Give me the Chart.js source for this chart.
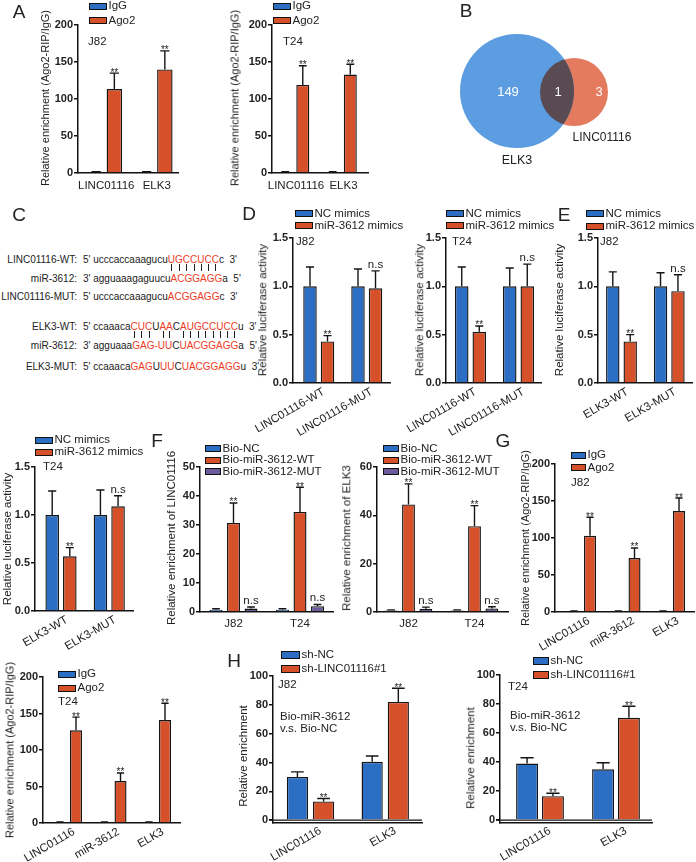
<!DOCTYPE html>
<html><head><meta charset="utf-8">
<script src="https://cdn.jsdelivr.net/npm/chart.js@4.4.1/dist/chart.umd.min.js"></script>
<style>
html,body{margin:0;padding:0;background:#fff;}
#fig{position:relative;width:696px;height:862px;overflow:hidden;font-family:"Liberation Sans",Arial,sans-serif;color:#222;}
.t{position:absolute;line-height:1;white-space:nowrap;}
canvas{position:absolute;}
.lb{position:absolute;border:1.2px solid #111;box-sizing:border-box;}
.r{color:#ee3b24;}
.p{position:relative;}
.p::after{content:"";position:absolute;left:50%;top:10px;height:7px;border-left:1px solid #222;}
</style></head><body><div id="fig"></div>
<script>
// ---------------- DATA ----------------
const catsA = ['LINC01116', 'ELK3'];
const a1IgG = [1.2, 1.0], a1IgGErr = [1.8, 1.6];
const a1Ago2 = [113.5, 140], a1Ago2Err = [135, 165], a1Sig = ['**', '**'];
const a2IgG = [1.2, 1.2], a2IgGErr = [1.8, 1.8];
const a2Ago2 = [119, 133], a2Ago2Err = [145, 147], a2Sig = ['**', '**'];

const vennNames = ['ELK3', 'LINC01116'];
const vennCounts = [149, 1, 3]; // ELK3 only, both, LINC01116 only

const catsD = ['LINC01116-WT', 'LINC01116-MUT'];
const d1NC = [1.0, 1.0], d1NCErr = [1.2, 1.18];
const d1Mir = [0.43, 0.98], d1MirErr = [0.49, 1.16], d1Sig = ['**', 'n.s'];
const d2NC = [1.0, 1.0], d2NCErr = [1.2, 1.19];
const d2Mir = [0.53, 1.0], d2MirErr = [0.59, 1.23], d2Sig = ['**', 'n.s'];

const catsE = ['ELK3-WT', 'ELK3-MUT'];
const e1NC = [1.0, 1.0], e1NCErr = [1.15, 1.14];
const e1Mir = [0.43, 0.95], e1MirErr = [0.5, 1.12], e1Sig = ['**', 'n.s'];
const e2NC = [1.0, 1.0], e2NCErr = [1.25, 1.26];
const e2Mir = [0.57, 1.09], e2MirErr = [0.66, 1.2], e2Sig = ['**', 'n.s'];

const catsF = ['J82', 'T24'];
const f1NC = [0.8, 0.8], f1NCErr = [1.1, 1.1];
const f1WT = [30.7, 34.5], f1WTErr = [37.6, 43], f1WTSig = ['**', '**'];
const f1MUT = [1.2, 2.0], f1MUTErr = [1.7, 2.6], f1MUTSig = ['n.s', 'n.s'];
const f2NC = [0.6, 0.6], f2NCErr = [0.9, 0.9];
const f2WT = [44.5, 35.5], f2WTErr = [53, 44], f2WTSig = ['**', '**'];
const f2MUT = [1.3, 1.5], f2MUTErr = [2.0, 2.2], f2MUTSig = ['n.s', 'n.s'];

const catsG = ['LINC01116', 'miR-3612', 'ELK3'];
const g1IgG = [1, 1, 1], g1IgGErr = [1.5, 1.5, 1.5];
const g1Ago2 = [103, 73, 136.5], g1Ago2Err = [128, 86.5, 154], g1Sig = ['**', '**', '**'];
const g2IgG = [1, 1, 1], g2IgGErr = [1.5, 1.5, 1.5];
const g2Ago2 = [127, 57.5, 141], g2Ago2Err = [145, 68.5, 164], g2Sig = ['**', '**', '**'];

const catsH = ['LINC01116', 'ELK3'];
const h1NC = [30, 40.5], h1NCErr = [33.5, 44.5];
const h1Sh = [13, 82], h1ShErr = [15, 91.5], h1Sig = ['**', '**'];
const h2NC = [39, 35], h2NCErr = [43, 39.5];
const h2Sh = [16.5, 70.5], h2ShErr = [18.5, 78.5], h2Sig = ['**', '**'];

const ticks200 = [0, 50, 100, 150, 200];
const ticks15 = [0, 0.5, 1.0, 1.5];
const ticks50 = [0, 10, 20, 30, 40, 50];
const ticks60 = [0, 20, 40, 60];
const ticks100 = [0, 20, 40, 60, 80, 100];

// ---------------- STYLE ----------------
const BLUE = '#2c6ec4', ORANGE = '#d6502a', PURPLE = '#6b5a9c';
const FONT = '"Liberation Sans", Arial, sans-serif';
Chart.defaults.font.family = FONT;
Chart.defaults.color = '#222';
const fig = document.getElementById('fig');

function T(x, cy, s, fs, align, extra) {
  const d = document.createElement('div');
  d.className = 't';
  d.style.fontSize = fs + 'px';
  d.innerHTML = s;
  if (align === 'rot') {
    d.style.left = x + 'px'; d.style.top = cy + 'px';
    d.style.transform = 'translate(-50%,-50%) rotate(-90deg)';
  } else {
    d.style.left = x + 'px'; d.style.top = (cy - fs * 0.5) + 'px';
    if (align === 'c') d.style.transform = 'translateX(-50%)';
    if (align === 'r') d.style.transform = 'translateX(-100%)';
  }
  if (extra) Object.assign(d.style, extra);
  fig.appendChild(d);
  return d;
}
function legend(x, ys, items, bw, bh, fs) {
  items.forEach((it, i) => {
    const b = document.createElement('div');
    b.className = 'lb';
    b.style.left = x + 'px'; b.style.top = (ys[i] - bh / 2) + 'px';
    b.style.width = bw + 'px'; b.style.height = bh + 'px';
    b.style.background = it.color;
    fig.appendChild(b);
    T(x + bw + 1.5, ys[i], it.label, fs, 'l');
  });
}

const errPlugin = {
  id: 'errBars',
  afterDatasetsDraw(chart) {
    const ctx = chart.ctx, ys = chart.scales.y;
    chart.data.datasets.forEach((ds, di) => {
      const meta = chart.getDatasetMeta(di);
      meta.data.forEach((el, i) => {
        const top = el.y;
        let ey = top;
        if (ds.err && ds.err[i] != null) {
          ey = ys.getPixelForValue(ds.err[i]);
          const hw = el.width * 0.3;
          ctx.save();
          ctx.strokeStyle = '#151515'; ctx.lineWidth = 1.4;
          ctx.beginPath();
          ctx.moveTo(el.x, top); ctx.lineTo(el.x, ey);
          ctx.moveTo(el.x - hw, ey); ctx.lineTo(el.x + hw, ey);
          ctx.stroke(); ctx.restore();
        }
        const sg = ds.sig ? ds.sig[i] : '';
        if (sg) {
          ctx.save(); ctx.fillStyle = '#222'; ctx.textAlign = 'center'; ctx.textBaseline = 'alphabetic';
          if (sg === '**') { ctx.font = '10px ' + FONT; ctx.fillText(sg, el.x, ey + 2.5); }
          else { ctx.font = '11.5px ' + FONT; ctx.fillText(sg, el.x, ey - 3); }
          ctx.restore();
        }
      });
    });
  }
};
const zeroPlugin = {
  id: 'zeroLine',
  afterDatasetsDraw(chart, args, opts) {
    if (!opts || !opts.on) return;
    const ctx = chart.ctx, a = chart.chartArea, y0 = chart.scales.y.getPixelForValue(0);
    ctx.save(); ctx.strokeStyle = '#111'; ctx.lineWidth = 1.3;
    ctx.beginPath(); ctx.moveTo(a.left - 4, y0); ctx.lineTo(a.right, y0); ctx.stroke(); ctx.restore();
  }
};

function barChart(s) {
  const yW = 80, padT = 12, padR = 16;
  const cv = document.createElement('canvas');
  const W = Math.round(s.R - s.L + yW + padR), H = Math.round(s.B - s.T + padT + s.xH);
  cv.width = W; cv.height = H;
  cv.style.width = W + 'px'; cv.style.height = H + 'px';
  cv.style.left = (s.L - yW) + 'px'; cv.style.top = (s.T - padT) + 'px';
  fig.appendChild(cv);
  const xmin = (s.L - s.x0) / s.w, xmax = (s.R - s.x0) / s.w;
  new Chart(cv, {
    type: 'bar',
    data: {
      datasets: s.series.map(se => ({
        label: se.label,
        data: s.cats.map((c, i) => ({ x: i, y: se.data[i] })),
        err: se.err, sig: se.sig,
        backgroundColor: se.color, borderColor: '#151515', borderWidth: 1.4,
        categoryPercentage: s.cp, barPercentage: s.bp
      }))
    },
    options: {
      responsive: false, animation: false, devicePixelRatio: 1, events: [],
      layout: { padding: { top: padT, right: padR, left: 0, bottom: 0 }, autoPadding: false },
      plugins: { legend: { display: false }, tooltip: { enabled: false }, zeroLine: { on: !!s.zeroLine } },
      scales: {
        x: {
          type: 'linear', min: xmin, max: xmax, offset: false,
          grid: { display: false, drawTicks: false },
          border: { display: true, color: '#111', width: 1.5 },
          afterBuildTicks: sc => { sc.ticks = s.cats.map((c, i) => ({ value: i })); },
          afterFit: sc => { sc.height = s.xH; },
          ticks: { autoSkip: false, minRotation: s.rot, maxRotation: s.rot, padding: s.xPad, labelOffset: s.lo || 0, color: '#222',
            font: { size: 11.5 }, callback: v => (s.cats[v] !== undefined ? s.cats[v] : '') }
        },
        y: {
          type: 'linear', min: s.ymin, max: s.ymax,
          grid: { display: true, drawOnChartArea: false, drawTicks: true, tickLength: 4, color: '#111', lineWidth: 1.5 },
          border: { display: true, color: '#111', width: 1.5 },
          afterBuildTicks: sc => { sc.ticks = s.yticks.map(v => ({ value: v })); },
          afterFit: sc => { sc.width = yW; },
          ticks: { padding: 1, color: '#222', font: { size: 11, weight: 'bold' },
            callback: v => (s.fmt ? s.fmt(v) : String(v)) }
        }
      }
    },
    plugins: [errPlugin, zeroPlugin]
  });
}
const f1 = v => v.toFixed(1);

// ---------- Panel A ----------
const serA1 = [{ label: 'IgG', color: BLUE, data: a1IgG, err: a1IgGErr }, { label: 'Ago2', color: ORANGE, data: a1Ago2, err: a1Ago2Err, sig: a1Sig }];
const serA2 = [{ label: 'IgG', color: BLUE, data: a2IgG, err: a2IgGErr }, { label: 'Ago2', color: ORANGE, data: a2Ago2, err: a2Ago2Err, sig: a2Sig }];
barChart({ L: 78, R: 178, T: 25, B: 173, ymin: 0, ymax: 200, yticks: ticks200, cats: catsA, x0: 105.25, w: 50.5, cp: 0.72, bp: 0.85, rot: 0, xH: 30, xPad: 6, lo: 1, series: serA1 });
barChart({ L: 272, R: 368, T: 25, B: 173, ymin: 0, ymax: 200, yticks: ticks200, cats: catsA, x0: 294, w: 47.5, cp: 0.74, bp: 0.74, rot: 0, xH: 30, xPad: 6, lo: 2, series: serA2 });
legend(89, [6, 20.5], serA1, 18, 7, 11.5);
legend(273, [6, 20.5], serA2, 18, 7, 11.5);
T(88, 42, 'J82', 11.5, 'l'); T(283, 42, 'T24', 11.5, 'l');
T(45, 98, 'Relative enrichment (Ago2-RIP/IgG)', 11, 'rot');
T(235, 98, 'Relative enrichment (Ago2-RIP/IgG)', 11, 'rot');

// ---------- Panel B (Venn) ----------
(function () {
  const cv = document.createElement('canvas');
  cv.width = 236; cv.height = 190; cv.style.width = '236px'; cv.style.height = '190px';
  cv.style.left = '460px'; cv.style.top = '0px';
  fig.appendChild(cv);
  const vennPlugin = {
    id: 'venn',
    afterDatasetsDraw(chart) {
      const a = chart.getDatasetMeta(0).data[0], b = chart.getDatasetMeta(1).data[0];
      const ra = a.options.radius, rb = b.options.radius;
      const ctx = chart.ctx;
      ctx.save();
      ctx.beginPath(); ctx.arc(a.x, a.y, ra, 0, Math.PI * 2); ctx.clip();
      ctx.beginPath(); ctx.arc(b.x, b.y, rb, 0, Math.PI * 2); ctx.fillStyle = '#5a4a52'; ctx.fill();
      ctx.restore();
      ctx.save(); ctx.fillStyle = '#fff'; ctx.font = '13px ' + FONT; ctx.textAlign = 'center'; ctx.textBaseline = 'middle';
      const ovL = b.x - rb, ovR = a.x + ra;
      ctx.fillText(String(vennCounts[0]), a.x - 9, a.y + 1);
      ctx.fillText(String(vennCounts[1]), (ovL + ovR) / 2 + 1, a.y + 1);
      ctx.fillText(String(vennCounts[2]), (ovR + b.x + rb) / 2 + 8, a.y + 1);
      ctx.restore();
    }
  };
  new Chart(cv, {
    type: 'bubble',
    data: { datasets: [
      { label: vennNames[0], data: [{ x: 57, y: 91, r: 57 }], backgroundColor: '#5b9de0', borderWidth: 0, clip: false },
      { label: vennNames[1], data: [{ x: 114, y: 92, r: 34 }], backgroundColor: '#e47b5f', borderWidth: 0, clip: false }
    ] },
    options: {
      responsive: false, animation: false, devicePixelRatio: 1, events: [],
      layout: { padding: 0, autoPadding: false },
      plugins: { legend: { display: false }, tooltip: { enabled: false } },
      scales: { x: { display: false, min: 0, max: 236 }, y: { display: false, min: 0, max: 190, reverse: true } }
    },
    plugins: [vennPlugin]
  });
  T(517, 160, vennNames[0], 12.5, 'c');
  T(602, 137, vennNames[1], 12, 'c');
})();

// ---------- Panel C (sequences) ----------
const seqRows = [
  { name: 'LINC01116-WT:', cy: 260, segs: [["5' ucccaccaaagucu", 0], ['UGCCUCC', 2], ["c&nbsp;&nbsp;3'", 0]] },
  { name: 'miR-3612:', cy: 279, segs: [["3' agguaaagaguucu", 0], ['ACGGAGG', 1], ["a&nbsp;&nbsp;5'", 0]] },
  { name: 'LINC01116-MUT:', cy: 297, segs: [["5' ucccaccaaagucu", 0], ['ACGGAGG', 1], ["c&nbsp;&nbsp;3'", 0]] },
  { name: 'ELK3-WT:', cy: 327, segs: [["5' ccaaaca", 0], ['CUC', 2], ['U', 0], ['AA', 2], ['C', 0], ['AUGCCUCC', 2], ["u&nbsp;&nbsp;3'", 0]] },
  { name: 'miR-3612:', cy: 346, segs: [["3' agguaaa", 0], ['GAG-UU', 1], ['C', 0], ['UACGGAGG', 1], ["a&nbsp;&nbsp;5'", 0]] },
  { name: 'ELK3-MUT:', cy: 367, segs: [["5' ccaaaca", 0], ['GAG', 1], ['U', 0], ['UU', 1], ['C', 0], ['UACGGAGG', 1], ["u&nbsp;&nbsp;3'", 0]] }
];
seqRows.forEach(r => {
  T(77, r.cy, r.name, 10, 'r');
  const html = r.segs.map(([s, k]) => {
    if (k === 0) return s;
    if (k === 1) return '<span class="r">' + s + '</span>';
    return '<span class="r">' + s.split('').map(ch => '<span class="p">' + ch + '</span>').join('') + '</span>';
  }).join('');
  T(83, r.cy, html, 10, 'l');
});

// ---------- Panel D ----------
const serD1 = [{ label: 'NC mimics', color: BLUE, data: d1NC, err: d1NCErr }, { label: 'miR-3612 mimics', color: ORANGE, data: d1Mir, err: d1MirErr, sig: d1Sig }];
const serD2 = [{ label: 'NC mimics', color: BLUE, data: d2NC, err: d2NCErr }, { label: 'miR-3612 mimics', color: ORANGE, data: d2Mir, err: d2MirErr, sig: d2Sig }];
barChart({ L: 293, R: 390, T: 238, B: 383, ymin: 0, ymax: 1.5, yticks: ticks15, fmt: f1, cats: catsD, x0: 318.75, w: 48, cp: 0.73, bp: 0.77, rot: 30, xH: 70, xPad: 2, lo: 5, series: serD1 });
barChart({ L: 446, R: 541, T: 238, B: 383, ymin: 0, ymax: 1.5, yticks: ticks15, fmt: f1, cats: catsD, x0: 470.5, w: 48, cp: 0.73, bp: 0.77, rot: 30, xH: 70, xPad: 2, lo: 5, series: serD2 });
legend(295, [213.5, 225.5], serD1, 18, 7, 11.5);
legend(446, [213.5, 225.5], serD2, 18, 7, 11.5);
T(296, 242, 'J82', 11.5, 'l'); T(452, 242, 'T24', 11.5, 'l');
T(263, 310, 'Relative luciferase activity', 11.5, 'rot');
T(420, 310, 'Relative luciferase activity', 11.5, 'rot');

// ---------- Panel E ----------
const serE1 = [{ label: 'NC mimics', color: BLUE, data: e1NC, err: e1NCErr }, { label: 'miR-3612 mimics', color: ORANGE, data: e1Mir, err: e1MirErr, sig: e1Sig }];
const serE2 = [{ label: 'NC mimics', color: BLUE, data: e2NC, err: e2NCErr }, { label: 'miR-3612 mimics', color: ORANGE, data: e2Mir, err: e2MirErr, sig: e2Sig }];
barChart({ L: 598, R: 692, T: 238, B: 383, ymin: 0, ymax: 1.5, yticks: ticks15, fmt: f1, cats: catsE, x0: 621.5, w: 47.75, cp: 0.73, bp: 0.77, rot: 30, xH: 70, xPad: 2, lo: 6, series: serE1 });
barChart({ L: 35, R: 133, T: 467, B: 611, ymin: 0, ymax: 1.5, yticks: ticks15, fmt: f1, cats: catsE, x0: 61, w: 48.25, cp: 0.73, bp: 0.77, rot: 30, xH: 70, xPad: 2, lo: 6, series: serE2 });
legend(586, [213.5, 226], serE1, 18, 7, 11.5);
legend(35, [440, 452], serE2, 18, 7, 11.5);
T(600, 242, 'J82', 11.5, 'l'); T(43, 467, 'T24', 11.5, 'l');
T(560, 310, 'Relative luciferase activity', 11.5, 'rot');
T(8, 539, 'Relative luciferase activity', 11.5, 'rot');

// ---------- Panel F ----------
const serF1 = [{ label: 'Bio-NC', color: BLUE, data: f1NC, err: f1NCErr }, { label: 'Bio-miR-3612-WT', color: ORANGE, data: f1WT, err: f1WTErr, sig: f1WTSig }, { label: 'Bio-miR-3612-MUT', color: PURPLE, data: f1MUT, err: f1MUTErr, sig: f1MUTSig }];
const serF2 = [{ label: 'Bio-NC', color: BLUE, data: f2NC, err: f2NCErr }, { label: 'Bio-miR-3612-WT', color: ORANGE, data: f2WT, err: f2WTErr, sig: f2WTSig }, { label: 'Bio-miR-3612-MUT', color: PURPLE, data: f2MUT, err: f2MUTErr, sig: f2MUTSig }];
barChart({ L: 200, R: 333, T: 467, B: 612, ymin: 0, ymax: 50, yticks: ticks50, cats: catsF, x0: 233.5, w: 66.5, cp: 0.79, bp: 0.74, rot: 0, xH: 30, xPad: 5, series: serF1 });
barChart({ L: 377, R: 508, T: 467, B: 612, ymin: 0, ymax: 60, yticks: ticks60, cats: catsF, x0: 408.5, w: 66, cp: 0.79, bp: 0.74, rot: 0, xH: 30, xPad: 5, series: serF2 });
legend(205, [448.5, 460, 471.5], serF1, 16, 7, 11.5);
legend(383, [448.5, 460, 471.5], serF2, 16, 7, 11.5);
T(172, 538, 'Relative enrichment of LINC01116', 11.5, 'rot');
T(347, 538, 'Relative enrichment of ELK3', 11.5, 'rot');

// ---------- Panel G ----------
const serG1 = [{ label: 'IgG', color: BLUE, data: g1IgG, err: g1IgGErr }, { label: 'Ago2', color: ORANGE, data: g1Ago2, err: g1Ago2Err, sig: g1Sig }];
const serG2 = [{ label: 'IgG', color: BLUE, data: g2IgG, err: g2IgGErr }, { label: 'Ago2', color: ORANGE, data: g2Ago2, err: g2Ago2Err, sig: g2Sig }];
barChart({ L: 555, R: 694, T: 464, B: 612, ymin: 0, ymax: 200, yticks: ticks200, cats: catsG, x0: 582, w: 44.5, cp: 0.72, bp: 0.75, rot: 30, xH: 60, xPad: 2, lo: 7, series: serG1 });
barChart({ L: 43, R: 180, T: 677, B: 823, ymin: 0, ymax: 200, yticks: ticks200, cats: catsG, x0: 68, w: 44.5, cp: 0.72, bp: 0.75, rot: 30, xH: 60, xPad: 2, lo: 6, series: serG2 });
legend(571, [455, 467.5], serG1, 15, 7, 11.5);
legend(58, [674, 688], serG2, 18, 7, 11.5);
T(571, 483, 'J82', 11.5, 'l'); T(58, 702, 'T24', 11.5, 'l');
T(525, 538, 'Relative enrichment (Ago2-RIP/IgG)', 11, 'rot');
T(10, 750, 'Relative enrichment (Ago2-RIP/IgG)', 11, 'rot');

// ---------- Panel H ----------
const serH1 = [{ label: 'sh-NC', color: BLUE, data: h1NC, err: h1NCErr }, { label: 'sh-LINC01116#1', color: ORANGE, data: h1Sh, err: h1ShErr, sig: h1Sig }];
const serH2 = [{ label: 'sh-NC', color: BLUE, data: h2NC, err: h2NCErr }, { label: 'sh-LINC01116#1', color: ORANGE, data: h2Sh, err: h2ShErr, sig: h2Sig }];
barChart({ L: 273, R: 422, T: 676, B: 823, ymin: -2, ymax: 100, yticks: ticks100, cats: catsH, x0: 310.5, w: 74.75, cp: 0.70, bp: 0.81, rot: 30, xH: 50, xPad: 1, lo: 10, zeroLine: true, series: serH1 });
barChart({ L: 500, R: 652, T: 675, B: 823, ymin: -2, ymax: 100, yticks: ticks100, cats: catsH, x0: 540, w: 76, cp: 0.68, bp: 0.85, rot: 30, xH: 50, xPad: 1, lo: 10, zeroLine: true, series: serH2 });
legend(281, [654.5, 669], serH1, 19, 8, 11.5);
legend(533, [661, 675], serH2, 16, 8, 11.5);
T(278, 685, 'J82', 11.5, 'l'); T(508, 687, 'T24', 11.5, 'l');
T(280, 717, 'Bio-miR-3612', 11.5, 'l'); T(280, 729, 'v.s. Bio-NC', 11.5, 'l');
T(510, 716, 'Bio-miR-3612', 11.5, 'l'); T(510, 728, 'v.s. Bio-NC', 11.5, 'l');
T(244, 756, 'Relative enrichment', 11.5, 'rot');
T(471, 758, 'Relative enrichment', 11.5, 'rot');

// ---------- Panel letters ----------
[['A', 19, 11], ['B', 466, 10], ['C', 19, 214], ['D', 249, 213], ['E', 564, 214], ['F', 157, 440], ['G', 503, 440], ['H', 234, 660]]
  .forEach(([s, x, y]) => T(x, y, s, 19, 'c'));
</script></body></html>
